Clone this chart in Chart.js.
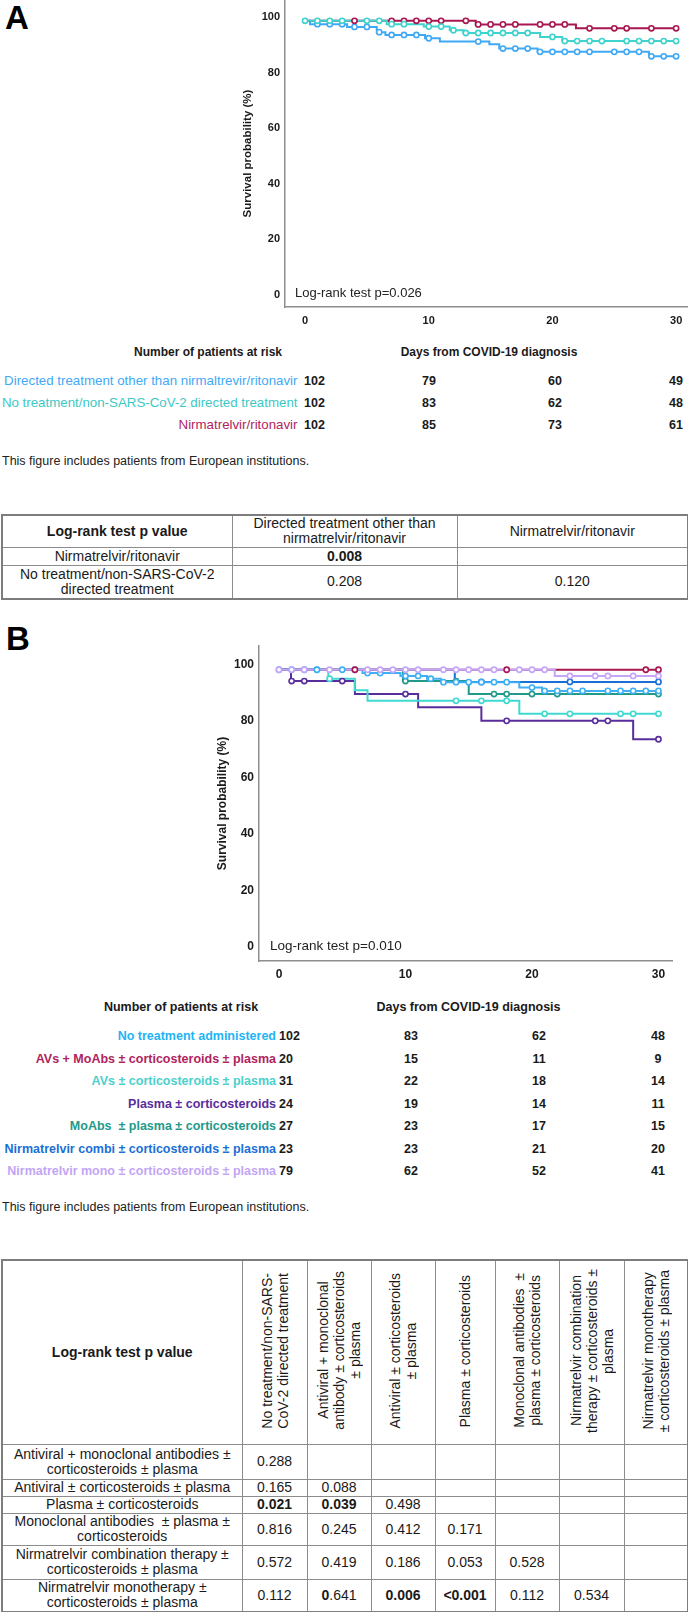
<!DOCTYPE html>
<html>
<head>
<meta charset="utf-8">
<script src="https://cdn.jsdelivr.net/npm/chart.js@4.4.1/dist/chart.umd.min.js"></script>
<style>
  body { margin: 0; background: #fff; }
  #page { position: relative; width: 688px; height: 1612px; overflow: hidden;
          font-family: "Liberation Sans", Arial, sans-serif; color: #1a1a1a; }
  .t { position: absolute; white-space: nowrap; line-height: 1.15; }
  canvas { position: absolute; }
  table { position: absolute; border-collapse: collapse; table-layout: fixed;
          font-size: 14px; line-height: 15px; text-align: center; border: 2px solid #7d7d7d; }
  td { border: 1px solid #8c8c8c; padding: 0; vertical-align: middle; }
  .rot { display: inline-block; writing-mode: vertical-rl; text-orientation: sideways;
         transform: rotate(180deg); white-space: nowrap; line-height: 16px; text-align: center; }
</style>
</head>
<body>
<div id="page">
  <canvas id="chartA" width="458" height="335" style="left:230px;top:0px"></canvas>
  <canvas id="chartB" width="488" height="370" style="left:200px;top:620px"></canvas>
</div>
<script>
// ---- shared axis values ----
const xTicks = [0, 10, 20, 30];
const yTicks = [0, 20, 40, 60, 80, 100];
const lastDay = 30;

// ---- panel A: survival curves (days of death steps, survival levels %, censored days) ----
const aOtherDrops = [0.4, 3.4, 5.8, 6.5, 9.7, 10.9, 14.9, 15.7, 18.8, 27.8];
const aOtherLevels = [98.7, 97.5, 96.5, 94.6, 93.6, 92.4, 91.2, 90.2, 88.7, 87.5, 85.9];
const aOtherCensor = [1, 2, 3, 4, 5, 6, 7, 8, 9, 10, 14, 16, 17, 18, 19, 20, 21, 22, 23, 25, 26, 27, 28, 29, 30];

const aNoTxDrops = [6.6, 9.6, 11.7, 12.8, 19.0, 20.8];
const aNoTxLevels = [98.7, 97.5, 96.6, 95.3, 94.3, 92.9, 91.4];
const aNoTxCensor = [0, 1, 2, 3, 5, 6, 7, 8, 10, 11, 12, 13, 14, 15, 16, 17, 18, 20, 21, 22, 23, 24, 26, 27, 28, 29, 30];

const aNirmDrops = [13.8, 21.9];
const aNirmLevels = [98.7, 97.4, 96.0];
const aNirmCensor = [4, 7, 8, 9, 10, 11, 13, 14, 15, 16, 17, 19, 20, 21, 23, 25, 26, 28, 30];

const aNames = ["Directed treatment other than nirmaltrevir/ritonavir",
                "No treatment/non-SARS-CoV-2 directed treatment",
                "Nirmatrelvir/ritonavir"];
const aAtRisk = [[102, 79, 60, 49], [102, 83, 62, 48], [102, 85, 73, 61]];

// ---- panel B: survival curves ----
const bNoTxDrops = [6.6, 9.6, 11.7, 12.8, 19.0, 20.8];
const bNoTxLevels = [98.1, 96.9, 95.9, 94.9, 93.7, 91.8, 90.6];
const bNoTxCensor = [0, 1, 2, 3, 5, 6, 7, 8, 10, 11, 12, 13, 14, 15, 16, 17, 18, 20, 21, 22, 23, 24, 26, 27, 28, 29, 30];

const bAvMoDrops = [];
const bAvMoLevels = [98.1];
const bAvMoCensor = [6, 18, 29, 30];

const bAvDrops = [3.9, 6.0, 7.0, 19.0];
const bAvLevels = [98.1, 94.9, 90.8, 87.1, 82.5];
const bAvCensor = [3, 4, 14, 16, 18, 21, 23, 27, 28, 30];

const bPlasmaDrops = [0.95, 6.0, 11.0, 16.0, 28.0];
const bPlasmaLevels = [98.1, 94.1, 89.5, 84.8, 80.0, 73.5];
const bPlasmaCensor = [1, 2, 5, 10, 18, 25, 26, 30];

const bMoDrops = [9.8, 15.0];
const bMoLevels = [98.1, 94.1, 89.5];
const bMoCensor = [10, 14, 17, 18, 20, 22, 30];

const bCombiDrops = [13.9];
const bCombiLevels = [98.1, 93.8];
const bCombiCensor = [16, 23, 30];

const bMonoDrops = [21.8];
const bMonoLevels = [98.1, 95.9];
const bMonoCensor = [0, 1, 2, 4, 7, 8, 9, 10, 11, 13, 14, 15, 16, 17, 19, 20, 21, 23, 25, 26, 28, 30];

const bNames = ["No treatment administered", "AVs + MoAbs ± corticosteroids ± plasma",
                "AVs ± corticosteroids ± plasma", "Plasma ± corticosteroids",
                "MoAbs \u00a0± plasma ± corticosteroids", "Nirmatrelvir combi ± corticosteroids ± plasma",
                "Nirmatrelvir mono ± corticosteroids ± plasma"];
const bAtRisk = [[102, 83, 62, 48], [20, 15, 11, 9], [31, 22, 18, 14], [24, 19, 14, 11],
                 [27, 23, 17, 15], [23, 23, 21, 20], [79, 62, 52, 41]];

// ---- p value tables ----
const pACols = ["Directed treatment other than<br>nirmatrelvir/ritonavir", "Nirmatrelvir/ritonavir"];
const pARows = ["Nirmatrelvir/ritonavir", "No treatment/non-SARS-CoV-2<br>directed treatment"];
const pAVals = [["<b>0.008</b>", ""], ["0.208", "0.120"]];

const pBCols = ["No treatment/non-SARS-<br>CoV-2 directed treatment",
                "Antiviral + monoclonal<br>antibody ± corticosteroids<br>± plasma",
                "Antiviral ± corticosteroids<br>± plasma",
                "Plasma ± corticosteroids",
                "Monoclonal antibodies &nbsp;±<br>plasma ± corticosteroids",
                "Nirmatrelvir combination<br>therapy ± corticosteroids ±<br>plasma",
                "Nirmatrelvir monotherapy<br>± corticosteroids ± plasma"];
const pBRows = ["Antiviral + monoclonal antibodies ±<br>corticosteroids ± plasma",
                "Antiviral ± corticosteroids ± plasma",
                "Plasma ± corticosteroids",
                "Monoclonal antibodies &nbsp;± plasma ±<br>corticosteroids",
                "Nirmatrelvir combination therapy ±<br>corticosteroids ± plasma",
                "Nirmatrelvir monotherapy ±<br>corticosteroids ± plasma"];
const pBVals = [["0.288"],
                ["0.165", "0.088"],
                ["<b>0.021</b>", "<b>0.039</b>", "0.498"],
                ["0.816", "0.245", "0.412", "0.171"],
                ["0.572", "0.419", "0.186", "0.053", "0.528"],
                ["0.112", "<b>0</b>.641", "<b>0.006</b>", "<b>&lt;0.001</b>", "0.112", "0.534"]];

// ---- helpers ----
const page = document.getElementById("page");

function txt(s, x, y, o) {
  const d = document.createElement("div");
  d.className = "t";
  d.innerHTML = s;
  d.style.left = x + "px";
  d.style.top = y + "px";
  d.style.fontSize = (o.size || 12) + "px";
  d.style.fontWeight = o.bold ? "bold" : "normal";
  d.style.color = o.color || "#1a1a1a";
  const ax = o.align === "right" ? "-100%" : o.align === "center" ? "-50%" : "0";
  d.style.transform = "translate(" + ax + ", -50%)";
  page.appendChild(d);
}

function kmLine(drops, levels) {
  const pts = [{ x: 0, y: levels[0] }];
  drops.forEach((d, i) => pts.push({ x: d, y: levels[i + 1] }));
  pts.push({ x: lastDay, y: levels[levels.length - 1] });
  return pts;
}

function levelAt(drops, levels, day) {
  let lv = levels[0];
  drops.forEach((d, i) => { if (d <= day) lv = levels[i + 1]; });
  return lv;
}

function kmSets(series, lw, r) {
  const lines = series.map((s, i) => ({
    data: kmLine(s.drops, s.levels), borderColor: s.color, borderWidth: lw,
    stepped: "before", pointRadius: 0, fill: false, order: 20 + i
  }));
  const marks = series.map((s, i) => ({
    data: s.censor.map(d => ({ x: d, y: levelAt(s.drops, s.levels, d) })),
    showLine: false, pointRadius: r, pointBackgroundColor: "#fff",
    pointBorderColor: s.color, pointBorderWidth: 1.6, order: i
  }));
  return lines.concat(marks);
}

function kmChart(id, datasets, ax) {
  return new Chart(document.getElementById(id), {
    type: "line",
    data: { datasets: datasets },
    options: {
      responsive: false,
      animation: false,
      events: [],
      clip: false,
      layout: { padding: ax.pad, autoPadding: false },
      plugins: { legend: { display: false }, tooltip: { enabled: false } },
      scales: {
        x: {
          type: "linear", min: ax.xMin, max: ax.xMax,
          afterBuildTicks: s => { s.ticks = xTicks.map(v => ({ value: v })); },
          grid: { display: false, drawTicks: false },
          border: { color: "#8e8e8e", width: 1.5 },
          ticks: { padding: ax.xPad, color: "#1a1a1a", maxRotation: 0, autoSkip: false,
                   font: { size: ax.tick, weight: "bold" } },
          afterFit: s => { s.height = ax.xH; s.paddingLeft = 0; s.paddingRight = 0; }
        },
        y: {
          type: "linear", min: ax.yMin, max: ax.yMax,
          afterBuildTicks: s => { s.ticks = yTicks.map(v => ({ value: v })); },
          grid: { display: false, drawTicks: false },
          border: { color: "#8e8e8e", width: 1.5 },
          ticks: { padding: 5, color: "#1a1a1a", font: { size: ax.tick, weight: "bold" } },
          title: { display: true, text: "Survival probability (%)", color: "#1a1a1a",
                   font: { size: ax.title, weight: "bold" }, padding: { top: ax.titlePad, bottom: 0 } },
          afterFit: s => { s.width = ax.yW; s.paddingTop = 0; s.paddingBottom = 0; }
        }
      }
    }
  });
}

function buildTable(left, top, colW, rowH, head, rowLabels, vals, rotate) {
  const t = document.createElement("table");
  t.style.left = left + "px";
  t.style.top = top + "px";
  t.style.width = colW.reduce((a, b) => a + b, 0) + "px";
  let h = "<colgroup>" + colW.map(w => '<col style="width:' + w + 'px">').join("") + "</colgroup>";
  h += '<tr style="height:' + rowH[0] + 'px"><td><b>Log-rank test p value</b></td>' +
       head.map(c => "<td>" + (rotate ? '<div class="rot">' + c + "</div>" : c) + "</td>").join("") + "</tr>";
  rowLabels.forEach((r, i) => {
    h += '<tr style="height:' + rowH[i + 1] + 'px"><td>' + r + "</td>";
    for (let j = 0; j < head.length; j++) h += "<td>" + (vals[i][j] || "") + "</td>";
    h += "</tr>";
  });
  t.innerHTML = h;
  page.appendChild(t);
}

// ---- panel A ----
const colA = { other: "#3fa9f5", notx: "#3ed3cd", nirm: "#a8174f" };
kmChart("chartA", kmSets([
  { drops: aNoTxDrops, levels: aNoTxLevels, censor: aNoTxCensor, color: colA.notx },
  { drops: aNirmDrops, levels: aNirmLevels, censor: aNirmCensor, color: colA.nirm },
  { drops: aOtherDrops, levels: aOtherLevels, censor: aOtherCensor, color: colA.other }
], 2, 2.6), {
  pad: { top: 0, right: 0, left: 0, bottom: 0 },
  xMin: -1.62, xMax: 30.96, yMin: -4.5, yMax: 106.2,
  xH: 28, yW: 55, xPad: 7, tick: 11, title: 11.5, titlePad: 11
});

txt("A", 5, 18, { size: 33, bold: true, color: "#000" });
txt("Log-rank test p=0.026", 295, 293, { size: 13, color: "#222" });
txt("Number of patients at risk", 208, 353, { size: 12, bold: true, align: "center" });
txt("Days from COVID-19 diagnosis", 489, 353, { size: 12, bold: true, align: "center" });
const aRiskX = [304, 429, 555, 676];
const aRowY = [381, 403, 425];
const aLabelCol = [colA.other, "#3cc8c4", "#b0245e"];
aNames.forEach((n, i) => {
  txt(n, 297.5, aRowY[i], { size: 13.3, color: aLabelCol[i], align: "right" });
  aAtRisk[i].forEach((v, j) => txt(String(v), aRiskX[j], aRowY[i],
    { size: 12.5, bold: true, align: j === 0 ? "left" : "center" }));
});
txt("This figure includes patients from European institutions.", 2, 461, { size: 12.5, color: "#222" });

buildTable(1, 514, [230, 225, 231], [32, 18, 34], pACols, pARows, pAVals, false);

// ---- panel B ----
const colB = ["#40b0f5", "#a8174f", "#3fd9d2", "#5a2d9c", "#23998a", "#1a6fd6", "#c6a7f7"];
kmChart("chartB", kmSets([
  { drops: bMonoDrops, levels: bMonoLevels, censor: bMonoCensor, color: colB[6] },
  { drops: bAvMoDrops, levels: bAvMoLevels, censor: bAvMoCensor, color: colB[1] },
  { drops: bNoTxDrops, levels: bNoTxLevels, censor: bNoTxCensor, color: colB[0] },
  { drops: bCombiDrops, levels: bCombiLevels, censor: bCombiCensor, color: colB[5] },
  { drops: bMoDrops, levels: bMoLevels, censor: bMoCensor, color: colB[4] },
  { drops: bAvDrops, levels: bAvLevels, censor: bAvCensor, color: colB[2] },
  { drops: bPlasmaDrops, levels: bPlasmaLevels, censor: bPlasmaCensor, color: colB[3] }
], 2, 2.6), {
  pad: { top: 26, right: 16, left: 0, bottom: 0 },
  xMin: -1.58, xMax: 31.07, yMin: -5.0, yMax: 106.5,
  xH: 29, yW: 59, xPad: 6, tick: 12, title: 12, titlePad: 15
});

txt("B", 6, 639, { size: 33, bold: true, color: "#000" });
txt("Log-rank test p=0.010", 270, 946, { size: 13.5, color: "#222" });
txt("Number of patients at risk", 181, 1007, { size: 12.5, bold: true, align: "center" });
txt("Days from COVID-19 diagnosis", 468.5, 1007, { size: 12.5, bold: true, align: "center" });
const bRiskX = [279, 411, 539, 658];
const bRowY = [1036, 1058.5, 1081, 1103.5, 1126, 1148.5, 1171];
const bLabelCol = ["#22b4f4", "#b0245e", "#4cd0cc", "#5a2d9c", "#23998a", "#1a6fd6", "#c3a5f5"];
bNames.forEach((n, i) => {
  txt(n, 276, bRowY[i], { size: 12.5, bold: true, color: bLabelCol[i], align: "right" });
  bAtRisk[i].forEach((v, j) => txt(String(v), bRiskX[j], bRowY[i],
    { size: 12.5, bold: true, align: j === 0 ? "left" : "center" }));
});
txt("This figure includes patients from European institutions.", 2, 1207, { size: 12.5, color: "#222" });

buildTable(1, 1259, [240, 65, 64, 64, 60, 64, 65, 64], [184, 35, 17, 17, 32, 34, 33],
           pBCols, pBRows, pBVals, true);
</script>
</body>
</html>
